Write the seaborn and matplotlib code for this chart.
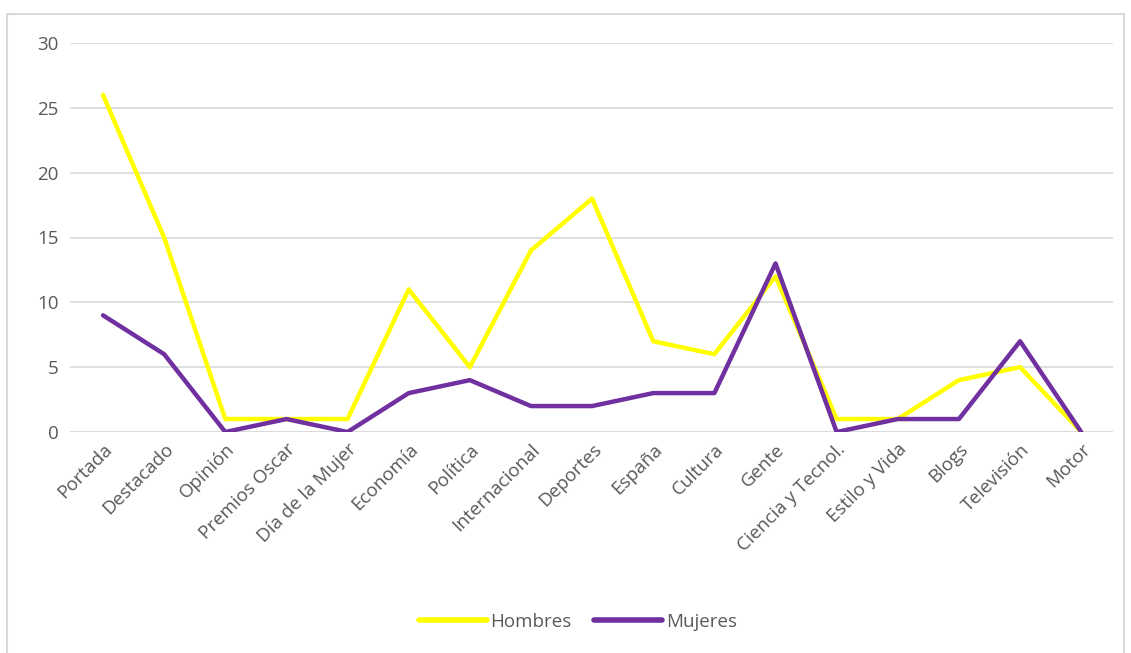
import numpy as np
import pandas as pd
import matplotlib
matplotlib.use("Agg")
import matplotlib.pyplot as plt
from matplotlib.patches import Rectangle
import seaborn as sns

secciones = ["Portada", "Destacado", "Opinión", "Premios Oscar", "Día de la Mujer",
             "Economía", "Política", "Internacional", "Deportes", "España", "Cultura",
             "Gente", "Ciencia y Tecnol.", "Estilo y Vida", "Blogs", "Televisión", "Motor"]
hombres = [26, 15, 1, 1, 1, 11, 5, 14, 18, 7, 6, 12, 1, 1, 4, 5, 0]
mujeres = [9, 6, 0, 1, 0, 3, 4, 2, 2, 3, 3, 13, 0, 1, 1, 7, 0]

df = pd.DataFrame({
    "pos": list(range(len(secciones))) * 2,
    "valor": hombres + mujeres,
    "serie": ["Hombres"] * len(hombres) + ["Mujeres"] * len(mujeres),
})

sns.set_style("white")
plt.rcParams['font.family'] = ['Open Sans', 'DejaVu Sans']

fig = plt.figure(figsize=(11.31, 6.53), dpi=100)
ax = fig.add_axes([70/1131, 1-432/653, (1113-70)/1131, (432-43)/653])

# marco del grafico
fig.patches.append(Rectangle((7/1131, -0.01), (1124-7)/1131, 1-14/653+0.01,
                             transform=fig.transFigure, fill=False,
                             edgecolor="#d9d9d9", lw=1.5))

sns.lineplot(data=df, x="pos", y="valor", hue="serie",
             palette={"Hombres": "#FFFF00", "Mujeres": "#7030A0"},
             linewidth=3.2, ax=ax, legend=False, solid_capstyle="round")

ax.set_xlim(-0.54, len(secciones) - 0.48)
ax.set_ylim(0, 30)
ax.set_yticks(range(0, 31, 5))
ax.set_xticks(range(len(secciones)))
ax.set_xticklabels(secciones, rotation=45, ha="right", rotation_mode="anchor")
ax.tick_params(axis="both", length=0, labelsize=13.5, colors="#595959", pad=8)
ax.tick_params(axis="x", pad=6)
ax.set_xlabel("")
ax.set_ylabel("")
ax.grid(axis="y", color="#d9d9d9", lw=1.2)
ax.set_axisbelow(True)
for s in ax.spines.values():
    s.set_visible(False)
ax.axhline(0, color="#d9d9d9", lw=1.2, zorder=0)

h1, = ax.plot([], [], color="#FFFF00", lw=4, solid_capstyle="round")
h2, = ax.plot([], [], color="#7030A0", lw=4, solid_capstyle="round")
fig.legend([h1, h2], ["Hombres", "Mujeres"], loc="center", bbox_to_anchor=(578/1131, 1-622/653),
           ncol=2, frameon=False, fontsize=13.5, handlelength=3.6, handletextpad=0.2,
           columnspacing=1.2, labelcolor="#595959")

fig.savefig("out.png", dpi=100, facecolor="white")
